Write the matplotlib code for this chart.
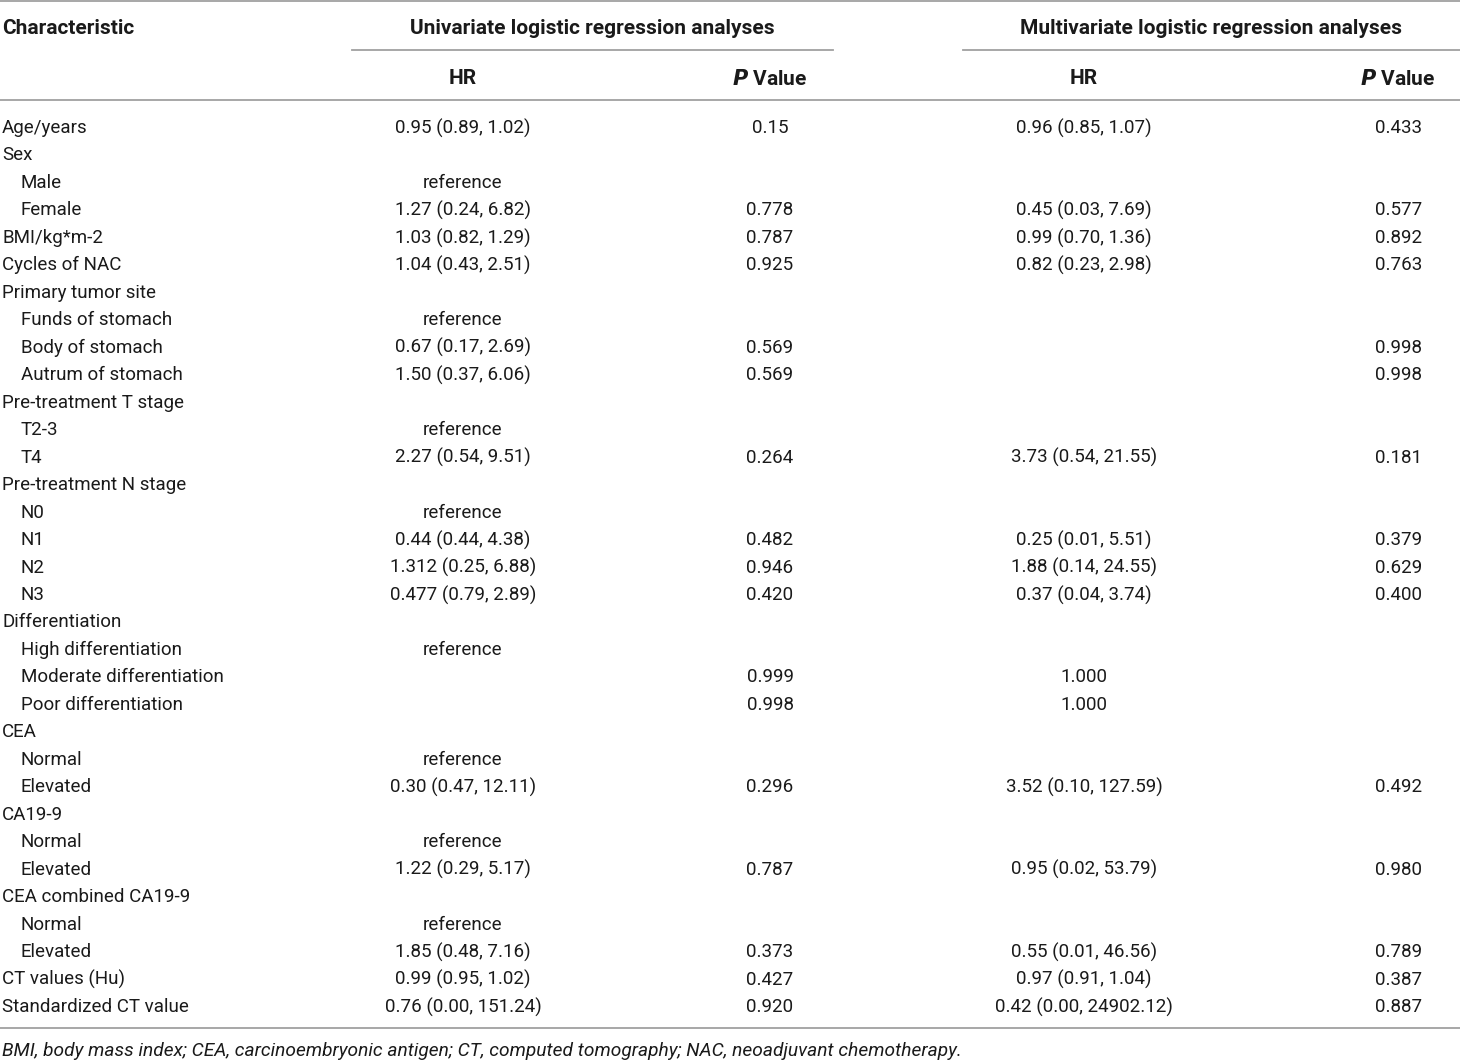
import matplotlib
matplotlib.use("Agg")
import matplotlib.pyplot as plt

plt.rcParams['font.family'] = ['Roboto', 'DejaVu Sans']

# table content
characteristics = [
    "Age/years", "Sex", "Male", "Female", "BMI/kg*m-2", "Cycles of NAC",
    "Primary tumor site", "Funds of stomach", "Body of stomach", "Autrum of stomach",
    "Pre-treatment T stage", "T2-3", "T4", "Pre-treatment N stage", "N0", "N1", "N2", "N3",
    "Differentiation", "High differentiation", "Moderate differentiation", "Poor differentiation",
    "CEA", "Normal", "Elevated", "CA19-9", "Normal", "Elevated",
    "CEA combined CA19-9", "Normal", "Elevated", "CT values (Hu)", "Standardized CT value",
]
indented = [False, False, True, True, False, False,
            False, True, True, True,
            False, True, True, False, True, True, True, True,
            False, True, True, True,
            False, True, True, False, True, True,
            False, True, True, False, False]
uni_hr = [
    "0.95 (0.89, 1.02)", "", "reference", "1.27 (0.24, 6.82)", "1.03 (0.82, 1.29)", "1.04 (0.43, 2.51)",
    "", "reference", "0.67 (0.17, 2.69)", "1.50 (0.37, 6.06)",
    "", "reference", "2.27 (0.54, 9.51)", "", "reference", "0.44 (0.44, 4.38)",
    "1.312 (0.25, 6.88)", "0.477 (0.79, 2.89)",
    "", "reference", "", "",
    "", "reference", "0.30 (0.47, 12.11)", "", "reference", "1.22 (0.29, 5.17)",
    "", "reference", "1.85 (0.48, 7.16)", "0.99 (0.95, 1.02)", "0.76 (0.00, 151.24)",
]
uni_p = [
    "0.15", "", "", "0.778", "0.787", "0.925",
    "", "", "0.569", "0.569",
    "", "", "0.264", "", "", "0.482", "0.946", "0.420",
    "", "", "0.999", "0.998",
    "", "", "0.296", "", "", "0.787",
    "", "", "0.373", "0.427", "0.920",
]
multi_hr = [
    "0.96 (0.85, 1.07)", "", "", "0.45 (0.03, 7.69)", "0.99 (0.70, 1.36)", "0.82 (0.23, 2.98)",
    "", "", "", "",
    "", "", "3.73 (0.54, 21.55)", "", "", "0.25 (0.01, 5.51)", "1.88 (0.14, 24.55)", "0.37 (0.04, 3.74)",
    "", "", "1.000", "1.000",
    "", "", "3.52 (0.10, 127.59)", "", "", "0.95 (0.02, 53.79)",
    "", "", "0.55 (0.01, 46.56)", "0.97 (0.91, 1.04)", "0.42 (0.00, 24902.12)",
]
multi_p = [
    "0.433", "", "", "0.577", "0.892", "0.763",
    "", "", "0.998", "0.998",
    "", "", "0.181", "", "", "0.379", "0.629", "0.400",
    "", "", "", "",
    "", "", "0.492", "", "", "0.980",
    "", "", "0.789", "0.387", "0.887",
]
footnote = ("BMI, body mass index; CEA, carcinoembryonic antigen; CT, computed tomography; "
            "NAC, neoadjuvant chemotherapy.")

W, H = 1460, 1060
fig = plt.figure(figsize=(W / 100, H / 100), dpi=100)
ax = fig.add_axes([0, 0, 1, 1])
ax.set_xlim(0, W)
ax.set_ylim(H, 0)
ax.axis('off')

fs = 13.5
hfs = 15
txt = '#1a1a1a'
line_c = '#a0a0a0'

# header
ax.text(2, 27, "Characteristic", ha='left', va='center_baseline', fontsize=hfs, fontweight='bold', color=txt)
ax.text(592, 27, "Univariate logistic regression analyses", ha='center', va='center_baseline',
        fontsize=hfs, fontweight='bold', color=txt)
ax.text(1211, 27, "Multivariate logistic regression analyses", ha='center', va='center_baseline',
        fontsize=hfs, fontweight='bold', color=txt)
for xc in (463, 1084):
    ax.text(xc, 77, "HR", ha='center', va='center_baseline', fontsize=hfs, fontweight='bold', color=txt)
for xc in (770, 1398):
    ax.text(xc, 77, r"$\bfit{P}$ Value", ha='center', va='center_baseline', fontsize=hfs,
            fontweight='bold', color=txt)

ax.plot([0, W], [1, 1], color=line_c, lw=1.3)
ax.plot([352, 833], [50, 50], color=line_c, lw=1.3)
ax.plot([963, W], [50, 50], color=line_c, lw=1.3)
ax.plot([0, W], [100, 100], color=line_c, lw=1.3)
ax.plot([0, W], [1028, 1028], color=line_c, lw=1.3)

# body rows
y0, dy = 126, 27.47
for i, name in enumerate(characteristics):
    y = y0 + i * dy
    ax.text(21 if indented[i] else 2, y, name, ha='left', va='center_baseline', fontsize=fs, color=txt)
    ax.text(463, y, uni_hr[i], ha='center', va='center_baseline', fontsize=fs, color=txt)
    ax.text(770, y, uni_p[i], ha='center', va='center_baseline', fontsize=fs, color=txt)
    ax.text(1084, y, multi_hr[i], ha='center', va='center_baseline', fontsize=fs, color=txt)
    ax.text(1399, y, multi_p[i], ha='center', va='center_baseline', fontsize=fs, color=txt)

ax.text(2, 1049, footnote, ha='left', va='center_baseline', fontsize=13.8, style='italic', color=txt)

fig.savefig("out.png", dpi=100)
